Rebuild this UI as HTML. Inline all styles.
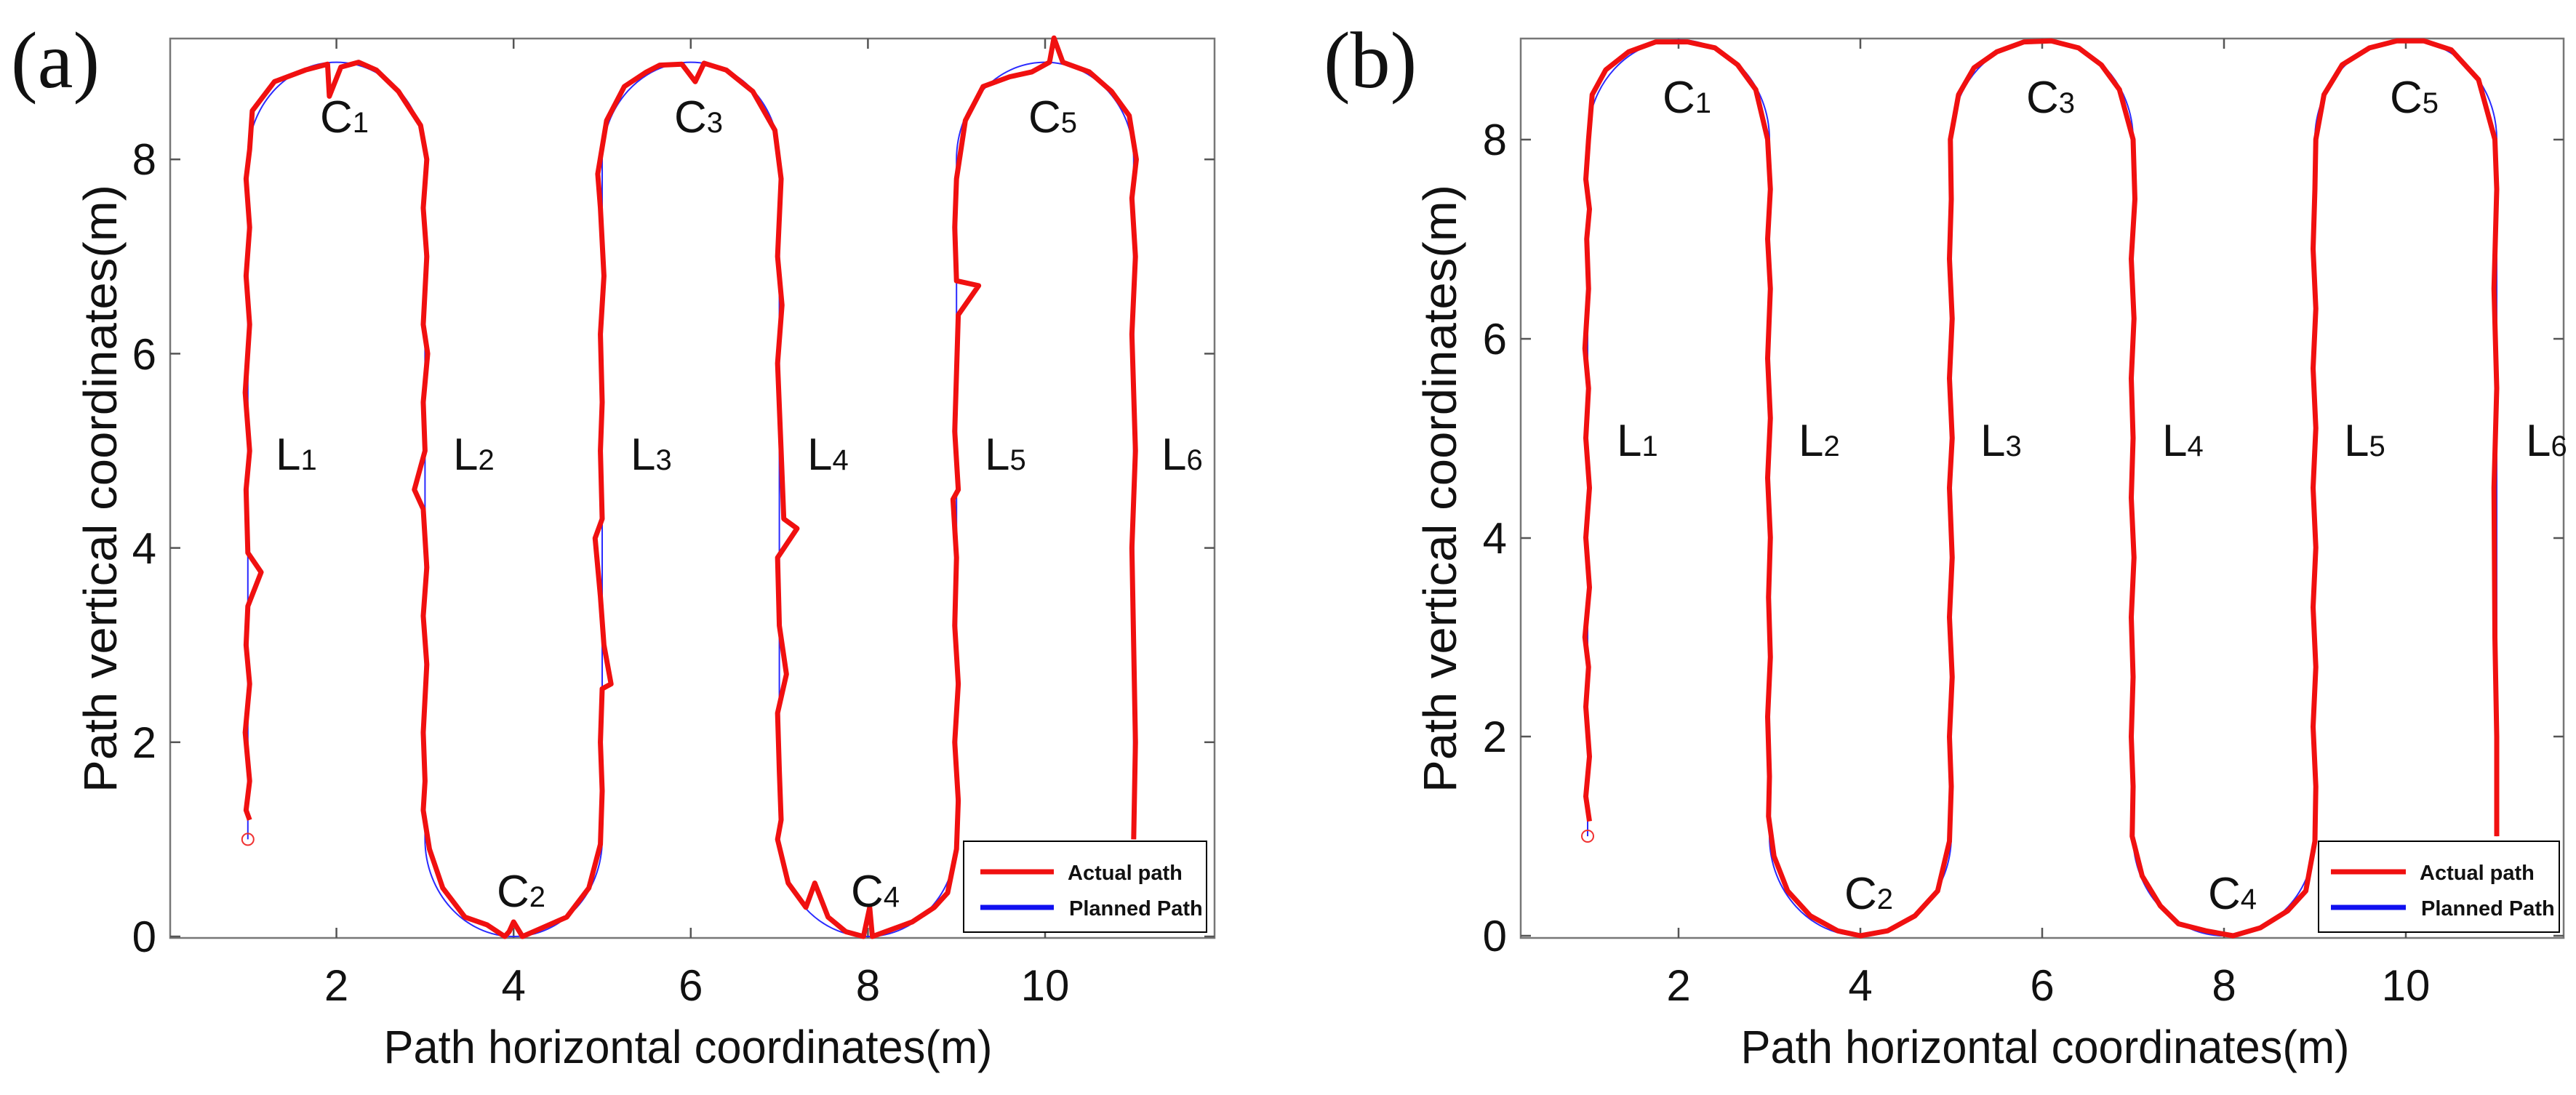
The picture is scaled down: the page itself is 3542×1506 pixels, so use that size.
<!DOCTYPE html>
<html><head><meta charset="utf-8"><style>
html,body{margin:0;padding:0;background:#fff;}
svg{display:block;}
text{font-family:"Liberation Sans",sans-serif;fill:#111;}
.tk{font-size:60px;}
.lab{font-size:62px;}
.sub{font-size:40px;}
.lg{font-size:29px;font-weight:bold;}
</style></head><body>
<svg width="3542" height="1506" viewBox="0 0 3542 1506" xmlns="http://www.w3.org/2000/svg">
<!-- Panel a -->
<text x="15" y="120" style="font-family:'Liberation Serif',serif;font-size:110px;">(a)</text>
<rect x="234" y="53" width="1436" height="1237" fill="none" stroke="#777" stroke-width="2.5"/>
<g stroke="#555" stroke-width="2.5">
<line x1="462.6" y1="1290" x2="462.6" y2="1276"/><line x1="706.2" y1="1290" x2="706.2" y2="1276"/><line x1="949.8" y1="1290" x2="949.8" y2="1276"/><line x1="1193.4" y1="1290" x2="1193.4" y2="1276"/><line x1="1437" y1="1290" x2="1437" y2="1276"/>
<line x1="462.6" y1="53" x2="462.6" y2="67"/><line x1="706.2" y1="53" x2="706.2" y2="67"/><line x1="949.8" y1="53" x2="949.8" y2="67"/><line x1="1193.4" y1="53" x2="1193.4" y2="67"/><line x1="1437" y1="53" x2="1437" y2="67"/>
<line x1="234" y1="1288" x2="248" y2="1288"/><line x1="234" y1="1020.8" x2="248" y2="1020.8"/><line x1="234" y1="753.6" x2="248" y2="753.6"/><line x1="234" y1="486.4" x2="248" y2="486.4"/><line x1="234" y1="219.2" x2="248" y2="219.2"/>
<line x1="1670" y1="1288" x2="1656" y2="1288"/><line x1="1670" y1="1020.8" x2="1656" y2="1020.8"/><line x1="1670" y1="753.6" x2="1656" y2="753.6"/><line x1="1670" y1="486.4" x2="1656" y2="486.4"/><line x1="1670" y1="219.2" x2="1656" y2="219.2"/>
</g>
<g class="tk" text-anchor="middle">
<text x="462.6" y="1376">2</text><text x="706.2" y="1376">4</text><text x="949.8" y="1376">6</text><text x="1193.4" y="1376">8</text><text x="1437" y="1376">10</text>
</g>
<g class="tk" text-anchor="end">
<text x="215" y="1309">0</text><text x="215" y="1042">2</text><text x="215" y="775">4</text><text x="215" y="508">6</text><text x="215" y="240">8</text>
</g>
<text x="946" y="1462" text-anchor="middle" style="font-size:64px" textLength="837" lengthAdjust="spacingAndGlyphs">Path horizontal coordinates(m)</text>
<text transform="translate(160,672) rotate(-90)" text-anchor="middle" style="font-size:64px" textLength="836" lengthAdjust="spacingAndGlyphs">Path vertical coordinates(m)</text>
<g transform="translate(219,1288) scale(121.8,-133.6)">
<path fill="none" stroke="#2a2aff" stroke-width="2" vector-effect="non-scaling-stroke" d="M1 1 L1 8 C1 8.5523 1.4477 9 2 9 C2.5523 9 3 8.5523 3 8 L3 1 C3 0.4477 3.4477 0 4 0 C4.5523 0 5 0.4477 5 1 L5 8 C5 8.5523 5.4477 9 6 9 C6.5523 9 7 8.5523 7 8 L7 1 C7 0.4477 7.4477 0 8 0 C8.5523 0 9 0.4477 9 1 L9 8 C9 8.5523 9.4477 9 10 9 C10.5523 9 11 8.5523 11 8 L11 1"/>
<polyline fill="none" stroke="#f01010" stroke-width="7" stroke-linejoin="round" vector-effect="non-scaling-stroke" points="1.02,1.2 0.98,1.3 1.02,1.6 0.97,2.1 1.02,2.6 0.98,3.0 1.0,3.4 1.15,3.75 1.0,3.95 0.98,4.6 1.02,5.0 0.97,5.6 1.02,6.3 0.98,6.8 1.02,7.3 0.98,7.8 1.02,8.1 1.05,8.5 1.3,8.8 1.65,8.92 1.9,8.98 1.92,8.65 2.05,8.95 2.25,9.0 2.45,8.92 2.7,8.7 2.95,8.35 3.02,8.0 2.98,7.5 3.02,7.0 2.98,6.3 3.03,6.0 2.98,5.5 3.0,5.0 2.88,4.6 2.98,4.4 3.02,3.8 2.98,3.3 3.02,2.8 2.98,2.1 3.0,1.6 2.98,1.3 3.05,0.9 3.2,0.5 3.45,0.2 3.7,0.12 3.9,0.0 3.95,0.05 4.0,0.15 4.1,0.0 4.3,0.08 4.6,0.2 4.85,0.5 4.98,0.95 5.0,1.5 4.98,2.0 5.0,2.55 5.1,2.6 5.02,3.0 4.98,3.5 4.92,4.1 5.0,4.3 4.98,5.0 5.0,5.5 4.98,6.2 5.02,6.8 4.98,7.5 4.95,7.85 5.05,8.4 5.25,8.75 5.5,8.9 5.65,8.97 5.9,8.98 6.05,8.8 6.15,8.99 6.4,8.92 6.7,8.7 6.95,8.3 7.02,7.8 6.98,7.0 7.03,6.5 6.98,5.9 7.02,5.0 7.05,4.3 7.2,4.2 6.98,3.9 7.0,3.2 7.08,2.7 6.98,2.3 7.0,1.7 7.02,1.2 6.98,1.0 7.1,0.55 7.3,0.3 7.4,0.55 7.55,0.2 7.75,0.05 7.95,0.0 8.02,0.3 8.05,0.0 8.2,0.05 8.5,0.15 8.75,0.3 8.9,0.45 9.0,0.9 9.02,1.4 8.98,2.0 9.02,2.6 8.98,3.2 9.0,3.9 8.96,4.5 9.02,4.6 8.98,5.2 9.0,5.8 9.02,6.4 9.25,6.7 9.0,6.75 8.98,7.3 9.0,7.8 9.1,8.4 9.3,8.75 9.6,8.85 9.85,8.9 10.05,9.0 10.1,9.25 10.2,9.0 10.5,8.9 10.75,8.7 10.95,8.45 11.03,8.0 10.98,7.6 11.02,7.0 10.98,6.2 11.02,5.0 10.98,4.0 11.0,3.0 11.02,2.0 11.0,1.0"/>
</g>
<circle cx="340.8" cy="1154.4" r="8" fill="none" stroke="#f03030" stroke-width="2"/>
<g class="lab">
<text x="440" y="182">C<tspan class="sub">1</tspan></text>
<text x="683" y="1247">C<tspan class="sub">2</tspan></text>
<text x="927" y="182">C<tspan class="sub">3</tspan></text>
<text x="1170" y="1247">C<tspan class="sub">4</tspan></text>
<text x="1414" y="182">C<tspan class="sub">5</tspan></text>
<text x="379" y="646">L<tspan class="sub">1</tspan></text>
<text x="623" y="646">L<tspan class="sub">2</tspan></text>
<text x="867" y="646">L<tspan class="sub">3</tspan></text>
<text x="1110" y="646">L<tspan class="sub">4</tspan></text>
<text x="1354" y="646">L<tspan class="sub">5</tspan></text>
<text x="1597" y="646">L<tspan class="sub">6</tspan></text>
</g>
<rect x="1325" y="1157" width="334" height="125" fill="#fff" stroke="#000" stroke-width="2"/>
<line x1="1348" y1="1199" x2="1449" y2="1199" stroke="#f01010" stroke-width="7"/>
<line x1="1348" y1="1248" x2="1449" y2="1248" stroke="#1010f0" stroke-width="7"/>
<text class="lg" x="1468" y="1210">Actual path</text>
<text class="lg" x="1470" y="1259">Planned Path</text>

<!-- Panel b -->
<text x="1820" y="120" style="font-family:'Liberation Serif',serif;font-size:110px;">(b)</text>
<rect x="2091" y="53" width="1434" height="1237" fill="none" stroke="#777" stroke-width="2.5"/>
<g stroke="#555" stroke-width="2.5">
<line x1="2308" y1="1290" x2="2308" y2="1276"/><line x1="2558" y1="1290" x2="2558" y2="1276"/><line x1="2808" y1="1290" x2="2808" y2="1276"/><line x1="3058" y1="1290" x2="3058" y2="1276"/><line x1="3308" y1="1290" x2="3308" y2="1276"/>
<line x1="2308" y1="53" x2="2308" y2="67"/><line x1="2558" y1="53" x2="2558" y2="67"/><line x1="2808" y1="53" x2="2808" y2="67"/><line x1="3058" y1="53" x2="3058" y2="67"/><line x1="3308" y1="53" x2="3308" y2="67"/>
<line x1="2091" y1="1287" x2="2105" y2="1287"/><line x1="2091" y1="1013" x2="2105" y2="1013"/><line x1="2091" y1="740" x2="2105" y2="740"/><line x1="2091" y1="466" x2="2105" y2="466"/><line x1="2091" y1="192" x2="2105" y2="192"/>
<line x1="3525" y1="1287" x2="3511" y2="1287"/><line x1="3525" y1="1013" x2="3511" y2="1013"/><line x1="3525" y1="740" x2="3511" y2="740"/><line x1="3525" y1="466" x2="3511" y2="466"/><line x1="3525" y1="192" x2="3511" y2="192"/>
</g>
<g class="tk" text-anchor="middle">
<text x="2308" y="1376">2</text><text x="2558" y="1376">4</text><text x="2808" y="1376">6</text><text x="3058" y="1376">8</text><text x="3308" y="1376">10</text>
</g>
<g class="tk" text-anchor="end">
<text x="2072" y="1308">0</text><text x="2072" y="1034">2</text><text x="2072" y="761">4</text><text x="2072" y="487">6</text><text x="2072" y="213">8</text>
</g>
<text x="2812" y="1462" text-anchor="middle" style="font-size:64px" textLength="837" lengthAdjust="spacingAndGlyphs">Path horizontal coordinates(m)</text>
<text transform="translate(2002,672) rotate(-90)" text-anchor="middle" style="font-size:64px" textLength="836" lengthAdjust="spacingAndGlyphs">Path vertical coordinates(m)</text>
<g transform="translate(2058,1287) scale(125,-136.9)">
<path fill="none" stroke="#2a2aff" stroke-width="2" vector-effect="non-scaling-stroke" d="M1 1 L1 8 C1 8.5523 1.4477 9 2 9 C2.5523 9 3 8.5523 3 8 L3 1 C3 0.4477 3.4477 0 4 0 C4.5523 0 5 0.4477 5 1 L5 8 C5 8.5523 5.4477 9 6 9 C6.5523 9 7 8.5523 7 8 L7 1 C7 0.4477 7.4477 0 8 0 C8.5523 0 9 0.4477 9 1 L9 8 C9 8.5523 9.4477 9 10 9 C10.5523 9 11 8.5523 11 8 L11 1"/>
<polyline fill="none" stroke="#f01010" stroke-width="7" stroke-linejoin="round" vector-effect="non-scaling-stroke" points="1.02,1.15 0.98,1.4 1.02,1.8 0.98,2.3 1.01,2.7 0.97,3.0 1.02,3.5 0.98,4.0 1.02,4.5 0.98,5.0 1.01,5.5 0.97,5.9 1.01,6.5 0.99,7.0 1.02,7.3 0.98,7.6 1.01,8.0 1.05,8.45 1.2,8.7 1.45,8.88 1.75,8.98 2.1,8.98 2.4,8.92 2.65,8.75 2.85,8.5 2.98,8.0 3.01,7.5 2.98,7.0 3.01,6.5 2.98,5.8 3.01,5.2 2.98,4.6 3.01,4.0 2.99,3.4 3.01,2.8 2.98,2.2 3.0,1.6 2.99,1.2 3.05,0.8 3.2,0.45 3.45,0.2 3.75,0.05 4.0,0.0 4.3,0.05 4.6,0.2 4.85,0.45 4.98,0.95 5.0,1.5 4.98,2.0 5.01,2.6 4.98,3.2 5.01,3.8 4.98,4.5 5.01,5.0 4.98,5.6 5.01,6.2 4.98,6.8 5.0,7.4 4.99,8.0 5.08,8.45 5.25,8.72 5.5,8.88 5.8,8.98 6.1,8.99 6.4,8.92 6.65,8.75 6.85,8.5 7.0,8.0 7.02,7.4 6.98,6.8 7.01,6.2 6.98,5.6 7.0,5.0 6.98,4.4 7.01,3.8 6.98,3.2 7.0,2.6 6.98,2.0 7.0,1.5 6.99,1.0 7.1,0.6 7.3,0.3 7.5,0.12 7.8,0.05 8.1,0.0 8.4,0.08 8.7,0.25 8.9,0.45 9.0,0.95 9.01,1.5 8.98,2.1 9.01,2.7 8.98,3.3 9.01,3.9 8.98,4.5 9.01,5.1 8.98,5.7 9.01,6.3 8.98,6.9 9.0,7.5 9.01,8.0 9.1,8.45 9.3,8.75 9.6,8.92 9.9,8.99 10.2,8.99 10.5,8.9 10.8,8.6 10.98,8.0 11.0,7.5 10.97,6.5 11.0,5.5 10.97,4.5 10.98,3.0 11.0,2.0 11.0,1.0"/>
</g>
<circle cx="2183" cy="1150" r="8" fill="none" stroke="#f03030" stroke-width="2"/>
<g class="lab">
<text x="2286" y="155">C<tspan class="sub">1</tspan></text>
<text x="2536" y="1250">C<tspan class="sub">2</tspan></text>
<text x="2786" y="155">C<tspan class="sub">3</tspan></text>
<text x="3036" y="1250">C<tspan class="sub">4</tspan></text>
<text x="3286" y="155">C<tspan class="sub">5</tspan></text>
<text x="2223" y="627">L<tspan class="sub">1</tspan></text>
<text x="2473" y="627">L<tspan class="sub">2</tspan></text>
<text x="2723" y="627">L<tspan class="sub">3</tspan></text>
<text x="2973" y="627">L<tspan class="sub">4</tspan></text>
<text x="3223" y="627">L<tspan class="sub">5</tspan></text>
<text x="3473" y="627">L<tspan class="sub">6</tspan></text>
</g>
<rect x="3188" y="1157" width="331" height="125" fill="#fff" stroke="#000" stroke-width="2"/>
<line x1="3205" y1="1199" x2="3308" y2="1199" stroke="#f01010" stroke-width="7"/>
<line x1="3205" y1="1248" x2="3308" y2="1248" stroke="#1010f0" stroke-width="7"/>
<text class="lg" x="3327" y="1210">Actual path</text>
<text class="lg" x="3329" y="1259">Planned Path</text>
</svg>
</body></html>
